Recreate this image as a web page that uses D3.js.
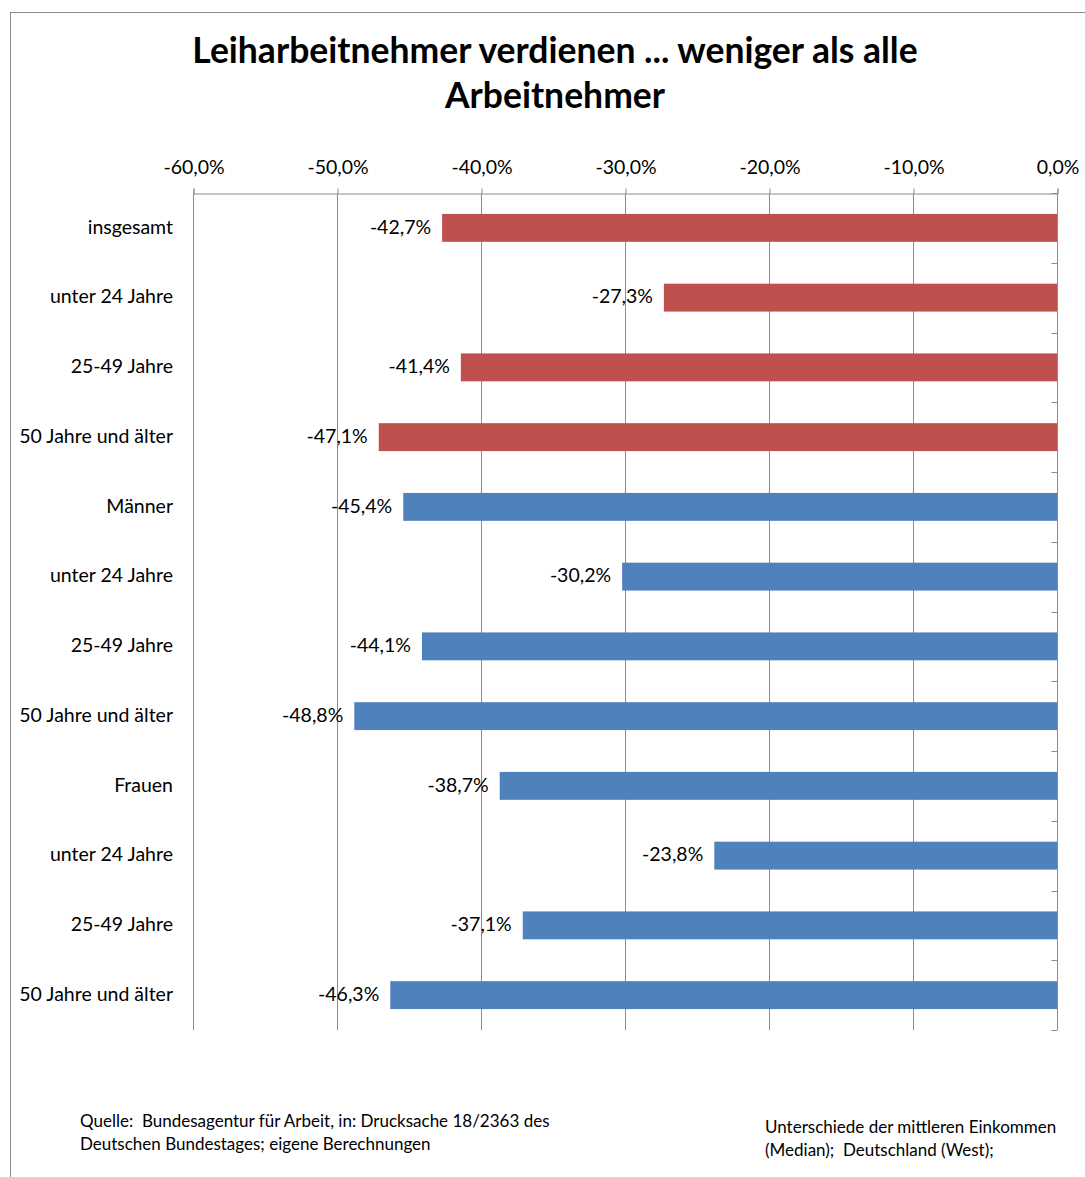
<!DOCTYPE html>
<html>
<head>
<meta charset="utf-8">
<script src="https://cdn.jsdelivr.net/npm/d3@7"></script>
<style>
  body { margin: 0; background: #fff; }
  text { font-family: Lato, "Open Sans", sans-serif; fill: #000; white-space: pre; }
</style>
</head>
<body>
<div id="chart"></div>
<script>
// chart data
const categories = ['insgesamt', 'unter 24 Jahre', '25-49 Jahre', '50 Jahre und älter',
  'Männer', 'unter 24 Jahre', '25-49 Jahre', '50 Jahre und älter',
  'Frauen', 'unter 24 Jahre', '25-49 Jahre', '50 Jahre und älter']
const values = [-42.7, -27.3, -41.4, -47.1, -45.4, -30.2, -44.1, -48.8, -38.7, -23.8, -37.1, -46.3]
const groups = ['total', 'total', 'total', 'total', 'other', 'other', 'other', 'other', 'other', 'other', 'other', 'other']
const tickValues = [-60, -50, -40, -30, -20, -10, 0]
const titleLines = ['Leiharbeitnehmer verdienen ... weniger als alle', 'Arbeitnehmer']
const sourceLines = ['Quelle:  Bundesagentur für Arbeit, in: Drucksache 18/2363 des', 'Deutschen Bundestages; eigene Berechnungen']
const noteLines = ['Unterschiede der mittleren Einkommen', '(Median);  Deutschland (West);']

const colors = { total: '#C0504D', other: '#4F81BD' }
const fmt = v => d3.format('.1f')(v).replace('−', '-').replace('.', ',') + '%'

const width = 1085, height = 1177
const plot = { left: 193, right: 1057, top: 193, bottom: 1030 }
const labelSize = '19.5px'

const svg = d3.select('#chart').append('svg')
  .attr('width', width)
  .attr('height', height)

// outer frame
svg.append('rect')
  .attr('x', 10.5).attr('y', 12.5)
  .attr('width', 1200).attr('height', 1300)
  .attr('fill', 'none').attr('stroke', '#8c8c8c')

// title
svg.append('g').selectAll('text')
  .data(titleLines)
  .join('text')
  .attr('x', 555)
  .attr('y', (d, i) => 63 + i * 45)
  .attr('text-anchor', 'middle')
  .style('font-size', '35.5px')
  .style('font-weight', 'bold')
  .text(d => d)

const x = d3.scaleLinear().domain([-60, 0]).range([plot.left, plot.right])
const y = d3.scaleBand().domain(d3.range(categories.length))
  .range([plot.top, plot.bottom]).paddingInner(0.6).paddingOuter(0.3)
const yBand = d3.scaleBand().domain(d3.range(categories.length))
  .range([plot.top, plot.bottom])

// gridlines
svg.append('g').selectAll('line')
  .data(tickValues.slice(0, -1))
  .join('line')
  .attr('x1', d => Math.round(x(d)) + 0.5).attr('x2', d => Math.round(x(d)) + 0.5)
  .attr('y1', plot.top).attr('y2', plot.bottom)
  .attr('stroke', '#8c8c8c')

// top value axis
const xAxis = svg.append('g')
  .attr('transform', `translate(0.5,${plot.top + 0.5})`)
  .call(d3.axisTop(x).tickValues(tickValues).tickSize(5).tickFormat(fmt))
xAxis.select('.domain').attr('stroke', '#8c8c8c')
xAxis.selectAll('.tick line').attr('stroke', '#8c8c8c')
xAxis.selectAll('.tick text')
  .attr('y', -20)
  .style('font-size', labelSize)
  .style('font-family', 'Lato, "Open Sans", sans-serif')

// category axis at zero (right)
const cat = svg.append('g').attr('transform', `translate(${plot.right + 0.5},0)`)
cat.append('line')
  .attr('y1', plot.top).attr('y2', plot.bottom)
  .attr('stroke', '#8c8c8c')
cat.selectAll('.tick')
  .data(d3.range(categories.length + 1))
  .join('line')
  .attr('class', 'tick')
  .attr('x1', -6).attr('x2', 0)
  .attr('y1', d => Math.round(d < categories.length ? yBand(d) : plot.bottom) + 0.5)
  .attr('y2', d => Math.round(d < categories.length ? yBand(d) : plot.bottom) + 0.5)
  .attr('stroke', '#8c8c8c')

// category labels
svg.append('g').selectAll('text')
  .data(categories)
  .join('text')
  .attr('x', 173)
  .attr('y', (d, i) => yBand(i) + yBand.bandwidth() / 2)
  .attr('dy', '0.3em')
  .attr('text-anchor', 'end')
  .style('font-size', labelSize)
  .text(d => d)

// bars
svg.append('g').selectAll('rect')
  .data(values)
  .join('rect')
  .attr('x', d => x(d))
  .attr('y', (d, i) => y(i))
  .attr('width', d => x(0) - x(d))
  .attr('height', y.bandwidth())
  .attr('fill', (d, i) => colors[groups[i]])

// value labels
svg.append('g').selectAll('text')
  .data(values)
  .join('text')
  .attr('x', d => x(d) - 11)
  .attr('y', (d, i) => y(i) + y.bandwidth() / 2)
  .attr('dy', '0.3em')
  .attr('text-anchor', 'end')
  .style('font-size', labelSize)
  .text(fmt)

// footnotes
svg.append('g').selectAll('text')
  .data(sourceLines)
  .join('text')
  .attr('x', 80).attr('y', (d, i) => 1127 + i * 23)
  .style('font-size', '17px')
  .text(d => d)

svg.append('g').selectAll('text')
  .data(noteLines)
  .join('text')
  .attr('x', 765).attr('y', (d, i) => 1133 + i * 23)
  .style('font-size', '17px')
  .text(d => d)
</script>
</body>
</html>
